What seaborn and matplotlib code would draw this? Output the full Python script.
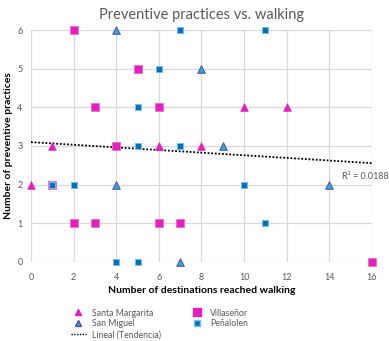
import numpy as np
import pandas as pd
import matplotlib
matplotlib.use("Agg")
import matplotlib.pyplot as plt
import seaborn as sns
from matplotlib.lines import Line2D

# ---- data ----
sm_x = [0, 1, 6, 8, 10, 12]
sm_y = [2, 3, 3, 3, 4, 4]
smig_x = [4, 8, 9, 4, 14, 7]
smig_y = [6, 5, 3, 2, 2, 0]
vil_x = [2, 5, 3, 6, 4, 1, 2, 3, 6, 7, 16]
vil_y = [6, 5, 4, 4, 3, 2, 1, 1, 1, 1, 0]
pen_x = [7, 11, 6, 5, 5, 7, 1, 2, 10, 11, 4, 5]
pen_y = [6, 6, 5, 4, 3, 3, 2, 2, 2, 1, 0, 0]
# linear trend (Excel trendline)
trend_intercept = 3.10
trend_slope = -0.034
trend_x_range = [0, 16]
r2_label = "R² = 0.0188"

sns.set_style("white")
plt.rcParams['font.family'] = ['Lato', 'DejaVu Sans']

fig = plt.figure(figsize=(3.89, 3.41), dpi=100)
ax = fig.add_axes([0.0797, 0.2317, 0.8763, 0.6803])

magenta = "#E61EBE"
blue_sq = "#0A6EBE"
blue_sq_edge = "#6CC4E8"
blue_tri = "#2AA6E0"
blue_tri_edge = "#5A4C9E"

kw = dict(ax=ax, zorder=3, clip_on=False, legend=False)
sns.scatterplot(x=sm_x, y=sm_y, marker="^", s=30, color=magenta, edgecolor=magenta,
                linewidth=0.5, **kw)
sns.scatterplot(x=smig_x, y=smig_y, marker="^", s=30, color=blue_tri, edgecolor=blue_tri_edge,
                linewidth=0.7, **kw)
sns.scatterplot(x=vil_x, y=vil_y, marker="s", s=30, color=magenta, edgecolor="#F06AD2",
                linewidth=0.6, **kw)
sns.scatterplot(x=pen_x, y=pen_y, marker="s", s=17, color=blue_sq, edgecolor=blue_sq_edge,
                linewidth=0.7, **kw)

xs = np.array(trend_x_range, dtype=float)
ax.plot(xs, trend_intercept + trend_slope * xs, linestyle=(0, (1, 1)), color="black",
        linewidth=1.3, zorder=2)

ax.text(14.6, 2.2, r2_label, fontsize=6.5, color="#595959", va="center", ha="left", clip_on=False)

ax.set_xlim(0, 16)
ax.set_ylim(0, 6)
ax.set_xticks(range(0, 17, 2))
ax.set_yticks(range(0, 7))
ax.grid(True, color="#D9D9D9", linewidth=0.9)
ax.set_axisbelow(True)
for sp in ax.spines.values():
    sp.set_visible(False)
ax.tick_params(axis="x", labelsize=6.5, colors="#595959", length=0, pad=8)
ax.tick_params(axis="y", labelsize=6.5, colors="#595959", length=0, pad=6)

ax.set_xlabel("Number of destinations reached walking", fontsize=7.5, fontweight="bold",
              color="black", labelpad=3)
ax.set_ylabel("Number of preventive practices", fontsize=7.5, fontweight="bold",
              color="black", labelpad=3)
ax.set_title("Preventive practices vs. walking", fontsize=10.5, color="#595959", pad=8)

handles = [
    Line2D([], [], marker="^", linestyle="none", color=magenta, markersize=5),
    Line2D([], [], marker="^", linestyle="none", markerfacecolor=blue_tri,
           markeredgecolor=blue_tri_edge, markersize=5),
    Line2D([], [], linestyle=(0, (1, 1)), color="black", linewidth=1.0),
    Line2D([], [], marker="s", linestyle="none", color=magenta, markersize=5.5),
    Line2D([], [], marker="s", linestyle="none", markerfacecolor=blue_sq,
           markeredgecolor=blue_sq_edge, markersize=4.5),
]
labels = ["Santa Margarita", "San Miguel", "Lineal (Tendencia)", "Villaseñor", "Peñalolen"]
leg = fig.legend(handles, labels, ncol=2, loc="upper left", bbox_to_anchor=(0.17, 0.108),
                 frameon=False, fontsize=6.3, handlelength=1.8, handletextpad=0.6,
                 columnspacing=3.3, labelspacing=0.22, borderpad=0)
for t in leg.get_texts():
    t.set_color("#595959")

fig.savefig("out.png", dpi=100)
